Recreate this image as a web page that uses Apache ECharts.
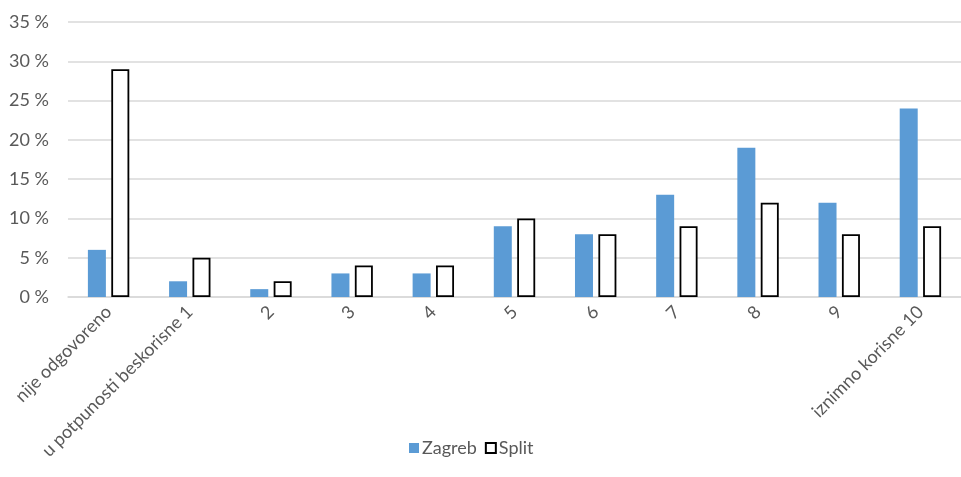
<!DOCTYPE html>
<html>
<head>
<meta charset="utf-8">
<script src="https://cdn.jsdelivr.net/npm/echarts@6/dist/echarts.min.js"></script>
<style>html,body{margin:0;padding:0;background:#fff}#c{width:961px;height:477px}</style>
</head>
<body>
<div id="c"></div>
<script>
const categories = ['nije odgovoreno','u potpunosti beskorisne 1','2','3','4','5','6','7','8','9','iznimno korisne 10'];
const zagreb = [6,2,1,3,3,9,8,13,19,12,24];
const split = [29,5,2,4,4,10,8,9,12,8,9];
const yTicks = {min:0, max:35, interval:5};

const chart = echarts.init(document.getElementById('c'));
const font = 'Lato, "Open Sans", sans-serif';
chart.setOption({
  animation:false,
  textStyle:{fontFamily:font},
  grid:{left:68, width:900, top:22, bottom:180},
  legend:{
    bottom:15, left:404, itemWidth:10, itemHeight:10, itemGap:8,
    textStyle:{fontFamily:font, fontSize:18, color:'#595959', padding:[0,0,0,-2]},
    data:[{name:'Zagreb', icon:'rect'},{name:'Split', icon:'rect'}]
  },
  xAxis:{
    type:'category', data:categories,
    axisLine:{lineStyle:{color:'#D9D9D9', width:1.5}},
    axisTick:{show:false},
    axisLabel:{rotate:45, interval:0, fontSize:18, color:'#595959', fontFamily:font, margin:12}
  },
  yAxis:{
    type:'value', min:yTicks.min, max:yTicks.max, interval:yTicks.interval,
    axisLabel:{formatter:v=>v+' %', fontSize:18, color:'#595959', fontFamily:font, margin:19},
    splitLine:{lineStyle:{color:'#D9D9D9', width:1.5}},
    axisLine:{show:false}, axisTick:{show:false}
  },
  series:[
    {name:'Zagreb', type:'bar', data:zagreb, barWidth:18, barGap:'30%',
     itemStyle:{color:'#5B9BD5'}},
    {name:'Split', type:'bar', data:split, barWidth:18,
     itemStyle:{color:'#FFFFFF', borderColor:'#000000', borderWidth:1.8}}
  ]
});
</script>
</body>
</html>
